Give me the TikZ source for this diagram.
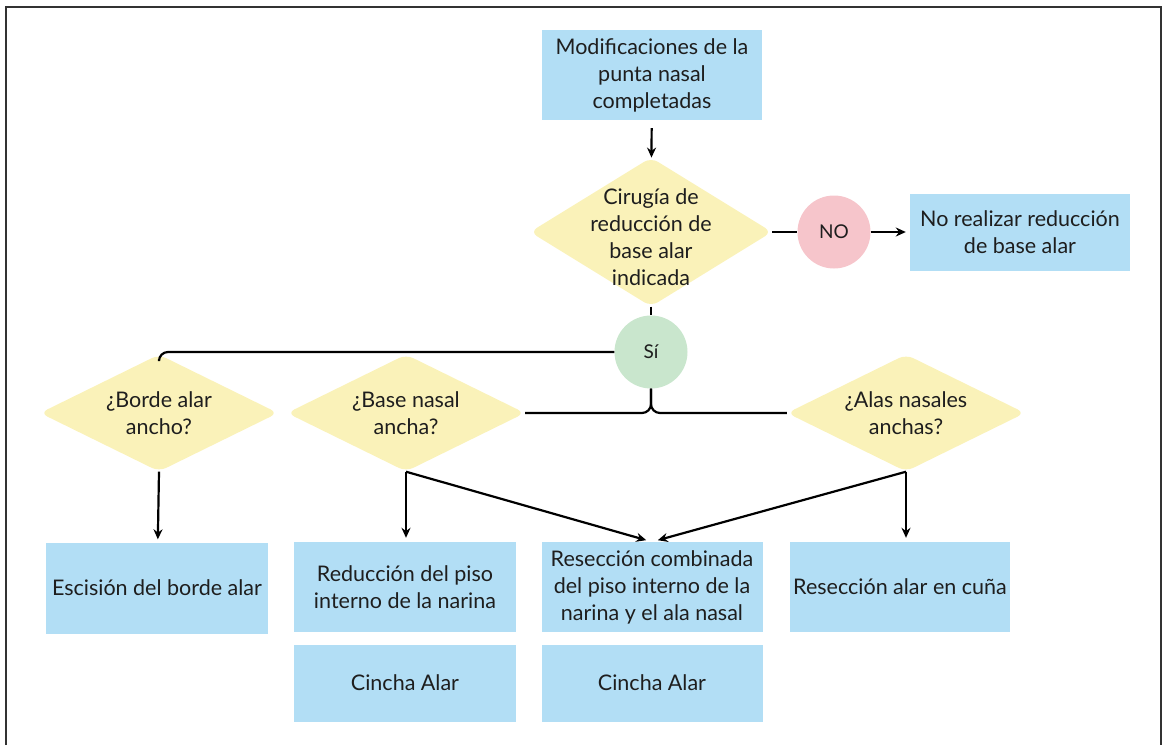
\documentclass[tikz,border=0pt]{standalone}
\usepackage{fontspec}
\setmainfont{Lato}
\usetikzlibrary{shapes.geometric,arrows.meta}
\definecolor{boxblue}{RGB}{178,222,245}
\definecolor{decyellow}{RGB}{250,242,185}
\definecolor{nopink}{RGB}{246,197,203}
\definecolor{sigreen}{RGB}{201,230,205}
\definecolor{textgray}{RGB}{30,30,30}
\definecolor{framegray}{RGB}{50,50,50}
\begin{document}
\begin{tikzpicture}[x=1pt,y=-1pt]
	      \tikzstyle{every node}=[font=\fontsize{21.5}{27}\selectfont,text=textgray,align=center]
	      \tikzstyle{actbox}=[rectangle,fill=boxblue,minimum width=221pt,minimum height=90pt,inner sep=0pt]
	      \tikzstyle{decision}=[diamond,fill=decyellow,rounded corners=8pt,minimum width=238pt,minimum height=117pt,inner sep=-16pt,aspect=2]
	      \tikzstyle{answer}=[circle,minimum size=73pt,inner sep=0pt,font=\fontsize{19}{22}\selectfont]
	      \tikzstyle{link}=[line width=2.2pt,black]
	      \tikzstyle{arr}=[-{Stealth[length=10pt,width=9pt]}]
	      \useasboundingbox (0,0) rectangle (1163,745);
	      \draw[line width=2pt,framegray](6,745)--(6,7)--(1161,7)--(1161,745);
	      % top part
	      \node[actbox,minimum width=220pt](completed) at (652,75){Modificaciones de la\\punta nasal\\completadas};
	      \node[decision,minimum width=242pt,minimum height=149pt](indicated) at (651,232){\raisebox{-13pt}[0pt][0pt]{\begin{tabular}{@{}c@{}}Cirugía de\\reducción de\\base alar\\indicada\end{tabular}}};
	      \node[answer,fill=nopink](no) at (834,232){NO};
	      \node[actbox,minimum width=220pt,minimum height=77pt](noreduction) at (1020,232){No realizar reducción\\de base alar};
	      \node[answer,fill=sigreen](si) at (651,352){Sí};
	      % questions
	      \node[decision](rim) at (159,413){¿Borde alar\\ancho?};
	      \node[decision](base) at (406,413){¿Base nasal\\ancha?};
	      \node[decision](wings) at (906,413){¿Alas nasales\\anchas?};
	      % procedures
	      \node[actbox,minimum width=222pt,minimum height=91pt](excision) at (157,588){Escisión del borde alar};
	      \node[actbox,minimum width=222pt](floor) at (405,587){Reducción del piso\\interno de la narina};
	      \node[actbox](combined) at (652,587){Resección combinada\\del piso interno de la\\narina y el ala nasal};
	      \node[actbox,minimum width=220pt](wedge) at (900,587){Resección alar en cuña};
	      \node[actbox,minimum width=222pt,minimum height=77pt](cinch1) at (405,683){Cincha Alar};
	      \node[actbox,minimum height=77pt](cinch2) at (652,683){Cincha Alar};
	      % connectors
	      \draw[link,arr,shorten <=8pt](completed)--(indicated);
	      \draw[link](indicated.east)--(no);
	      \draw[link,arr,shorten >=4pt](no)--(noreduction);
	      \draw[link](indicated.south)--(si);
	      \draw[link,rounded corners=9pt](si.west)-|([yshift=-5pt]rim.north);
	      \draw[link,rounded corners=9pt](si.south)|-(base.east);
	      \draw[link,rounded corners=9pt](si.south)|-(wings.west);
	      \draw[link,arr,shorten >=3pt](rim.south)--(excision);
	      \draw[link,arr,shorten >=4pt](base.south)--(base.south|-floor.north);
	      \draw[link,arr,shorten >=6pt](base.south)--(combined.north);
	      \draw[link,arr,shorten >=6pt](wings.south)--(combined.north);
	      \draw[link,arr,shorten >=4pt](wings.south)--(wings.south|-wedge.north);
	    \end{tikzpicture}
\end{document}
